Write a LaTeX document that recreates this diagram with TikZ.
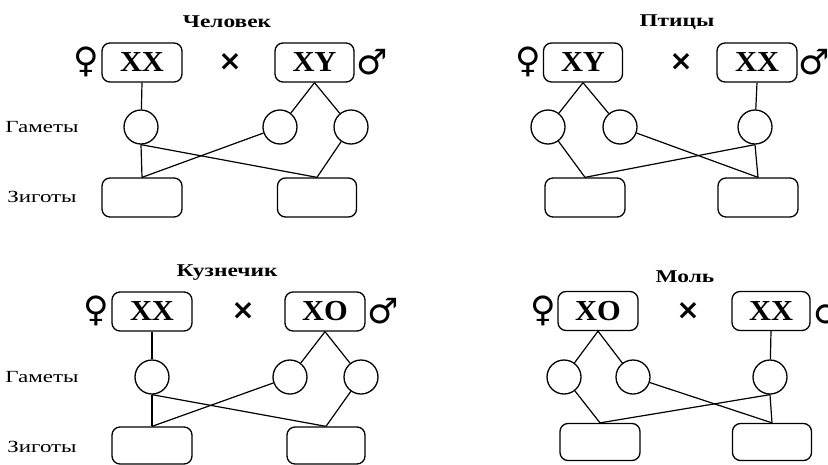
\documentclass[tikz,border=0pt]{standalone}
\usepackage{fontspec}
\setmainfont{Liberation Serif}
\newfontfamily\symfont{DejaVu Sans}
\newfontfamily\crossfont{DejaVu Sans Bold}
\newfontfamily\titlefont[FakeStretch=1.3]{Liberation Serif Bold}
\newfontfamily\labfont[FakeStretch=1.35]{Liberation Serif}
\newfontfamily\chromfont[FakeStretch=1.05]{Liberation Serif Bold}
\begin{document}
\begin{tikzpicture}[x=1pt,y=-1pt,
  chrom/.style={draw,line width=1.3pt,rounded corners=8pt,minimum width=80pt,minimum height=39pt,inner sep=0pt,font=\fontsize{29}{29}\chromfont},
  zyg/.style={draw,line width=1.3pt,rounded corners=8pt,minimum width=80pt,minimum height=39pt,inner sep=0pt},
  gam/.style={draw,circle,line width=1.3pt,minimum size=34pt,inner sep=0pt},
  conn/.style={line width=1.2pt},
  title/.style={font=\fontsize{18}{18}\titlefont},
  lab/.style={font=\fontsize{17}{17}\labfont},
  fem/.style={inner sep=0pt,anchor=east,font=\fontsize{35}{35}\symfont},
  mal/.style={inner sep=0pt,anchor=west,font=\fontsize{35}{35}\symfont},
  cross/.style={inner sep=0pt,font=\fontsize{28}{28}\crossfont}]
\useasboundingbox (0,0) rectangle (828,464);
% ---------- Panel 1: Человек ----------
\node[title] (t1) at (227,22) {Человек};
\node[fem] (f1) at (99,62) {♀};
\node[chrom] (p1a) at (142,62.5) {XX};
\node[cross] (x1) at (230,62) {×};
\node[chrom,minimum width=79pt] (p1b) at (314.5,62.5) {XY};
\node[mal] (m1) at (356,62) {♂};
\node[lab] (g1) at (42,127) {Гаметы};
\node[lab] (z1) at (42,197) {Зиготы};
\node[gam] (c1a) at (141,127) {};
\node[gam] (c1b) at (280,127) {};
\node[gam] (c1c) at (351,127) {};
\node[zyg] (y1a) at (142,197.5) {};
\node[zyg,minimum width=79pt] (y1b) at (317,197.5) {};
\draw[conn] (p1a.south) -- (c1a);
\draw[conn] (p1b.south) -- (c1b);
\draw[conn] (p1b.south) -- (c1c);
\draw[conn] (c1a.south) -- (y1a.north);
\draw[conn] (c1a.south) -- (y1b.north);
\draw[conn] (c1b) -- (y1a.north);
\draw[conn] (c1c) -- (y1b.north);
% ---------- Panel 2: Птицы ----------
\node[title] (t2) at (677,22) {Птицы};
\node[fem] (f2) at (541,62) {♀};
\node[chrom,minimum width=79pt] (p2a) at (583,62.5) {XY};
\node[cross] (x2) at (681,62) {×};
\node[chrom] (p2b) at (757,62.5) {XX};
\node[mal] (m2) at (798,62) {♂};
\node[gam] (c2a) at (548,127) {};
\node[gam] (c2b) at (620,127) {};
\node[gam] (c2c) at (755,127) {};
\node[zyg] (y2a) at (585,197.5) {};
\node[zyg] (y2b) at (758,197.5) {};
\draw[conn] (p2a.south) -- (c2a);
\draw[conn] (p2a.south) -- (c2b);
\draw[conn] (p2b.south) -- (c2c);
\draw[conn] (c2a) -- (y2a.north);
\draw[conn] (c2b) -- (y2b.north);
\draw[conn] (c2c.south) -- (y2a.north);
\draw[conn] (c2c.south) -- (y2b.north);
% ---------- Panel 3: Кузнечик ----------
\node[title] (t3) at (227,273) {Кузнечик};
\node[fem] (f3) at (109,311) {♀};
\node[chrom] (p3a) at (152,311.5) {XX};
\node[cross] (x3) at (243,311) {×};
\node[chrom] (p3b) at (325,311.5) {XO};
\node[mal] (m3) at (367,311) {♂};
\node[lab] (g3) at (42,377) {Гаметы};
\node[lab] (z3) at (42,447) {Зиготы};
\node[gam] (c3a) at (152,377) {};
\node[gam] (c3b) at (290,377) {};
\node[gam] (c3c) at (361,377) {};
\node[zyg,minimum height=37pt] (y3a) at (152,445.5) {};
\node[zyg,minimum width=78pt,minimum height=37pt] (y3b) at (326,445.5) {};
\draw[conn] (p3a.south) -- (c3a);
\draw[conn] (p3b.south) -- (c3b);
\draw[conn] (p3b.south) -- (c3c);
\draw[conn] (c3a.south) -- (y3a.north);
\draw[conn] (c3a.south) -- (y3b.north);
\draw[conn] (c3b) -- (y3a.north);
\draw[conn] (c3c) -- (y3b.north);
% ---------- Panel 4: Моль ----------
\node[title] (t4) at (685,277) {Моль};
\node[fem] (f4) at (556,311) {♀};
\node[chrom] (p4a) at (598,311) {XO};
\node[cross] (x4) at (688,311) {×};
\node[chrom,minimum width=78pt] (p4b) at (771,311) {XX};
\node[mal] (m4) at (813,311) {♂};
\node[gam] (c4a) at (564,377) {};
\node[gam] (c4b) at (633,377) {};
\node[gam] (c4c) at (770,377) {};
\node[zyg,minimum height=37pt] (y4a) at (600,442) {};
\node[zyg,minimum width=79pt,minimum height=37pt] (y4b) at (772,442) {};
\draw[conn] (p4a.south) -- (c4a);
\draw[conn] (p4a.south) -- (c4b);
\draw[conn] (p4b.south) -- (c4c);
\draw[conn] (c4a) -- (y4a.north);
\draw[conn] (c4b) -- (y4b.north);
\draw[conn] (c4c.south) -- (y4a.north);
\draw[conn] (c4c.south) -- (y4b.north);
\end{tikzpicture}
\end{document}
